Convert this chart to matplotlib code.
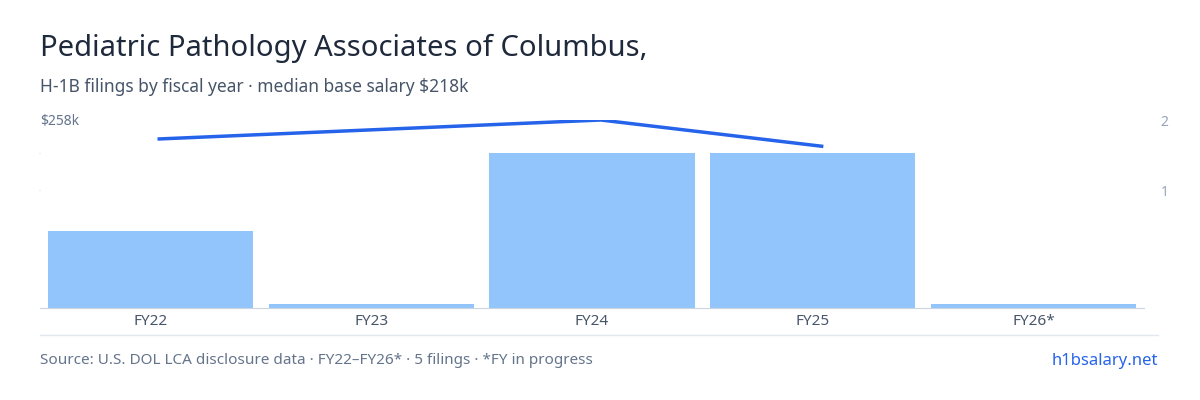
import matplotlib.pyplot as plt

years = ["FY22", "FY23", "FY24", "FY25", "FY26*"]
filings = [1, 0, 2, 2, 0]
salary_years = [0, 2, 3]
salary_k = [232, 258, 222]

plt.rcParams['font.family'] = ['Noto Sans', 'DejaVu Sans']
fig = plt.figure(figsize=(12, 4), dpi=100)
ax = fig.add_axes([40/1200, 1-308/400, 1104/1200, 188/400])

x = list(range(len(years)))
shown = [f if f > 0 else 0.05 for f in filings]  # stub bars for empty years
ax.bar(x, shown, width=0.93, color="#93c5fd")
ax.set_xlim(-0.5, 4.5)
ax.set_ylim(0, 2.43)
ax.set_xticks(x)
ax.set_xticklabels(years, fontsize=11, color="#475569")
ax.tick_params(axis="x", length=0, pad=4)
ax.set_yticks([2, 1.52])
ax.set_yticklabels(["", ""])
ax.tick_params(axis="y", length=1, color="#cbd5e1")
for s in ["top", "right", "left"]:
    ax.spines[s].set_visible(False)
ax.spines["bottom"].set_color("#cbd5e1")

ax2 = ax.twinx()
ax2.plot([i + 0.04 for i in salary_years], salary_k, color="#2563eb", lw=2.5)
ax2.set_ylim(0, 258)
ax2.set_yticks([258, 258 * 118 / 188])
ax2.set_yticklabels(["2", "1"], fontsize=10, color="#94a3b8")
ax2.tick_params(axis="y", length=0, pad=12)
for s in ax2.spines.values():
    s.set_visible(False)

fig.text(40/1200, 1-(48/400), "Pediatric Pathology Associates of Columbus,",
         fontsize=21, color="#1e293b", va="center")
fig.text(40/1200, 1-(87/400), "H-1B filings by fiscal year · median base salary $218k",
         fontsize=12.5, color="#475569", va="center")
fig.text(40/1200, 1-(121/400), "$258k", fontsize=10, color="#64748b", va="center")
fig.text(40/1200, 1-(361/400),
         "Source: U.S. DOL LCA disclosure data · FY22–FY26* · 5 filings · *FY in progress",
         fontsize=11, color="#64748b", va="center")
fig.text(1158/1200, 1-(361/400), "h1bsalary.net", fontsize=12, color="#2563eb",
         va="center", ha="right")
fig.add_artist(plt.Line2D([40/1200, 1158/1200], [1-335/400, 1-335/400],
                          color="#e2e8f0", lw=1))

fig.savefig("out.png", dpi=100)
